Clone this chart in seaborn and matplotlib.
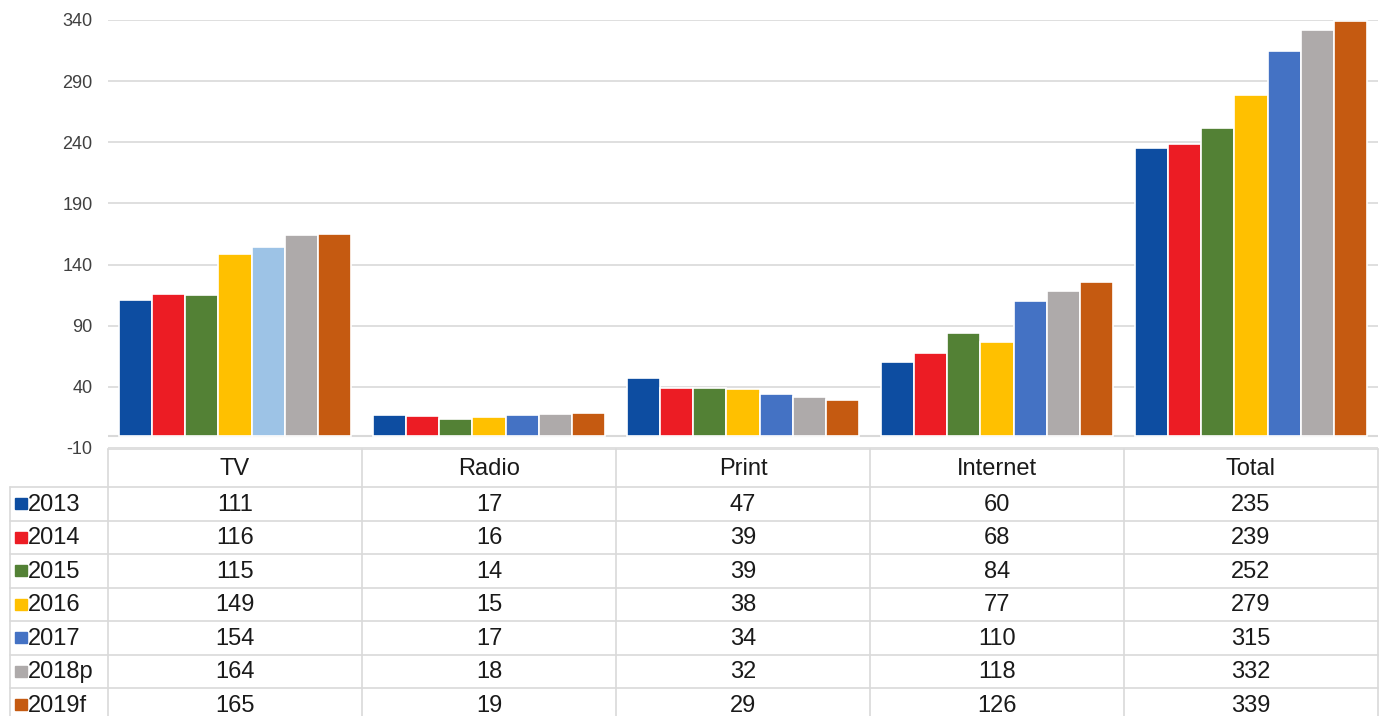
import matplotlib
matplotlib.use("Agg")
import matplotlib.pyplot as plt
import seaborn as sns
import pandas as pd

categories = ["TV", "Radio", "Print", "Internet", "Total"]
years = ["2013", "2014", "2015", "2016", "2017", "2018p", "2019f"]
v2013 = [111, 17, 47, 60, 235]
v2014 = [116, 16, 39, 68, 239]
v2015 = [115, 14, 39, 84, 252]
v2016 = [149, 15, 38, 77, 279]
v2017 = [154, 17, 34, 110, 315]
v2018p = [164, 18, 32, 118, 332]
v2019f = [165, 19, 29, 126, 339]
series = [v2013, v2014, v2015, v2016, v2017, v2018p, v2019f]
colors = ["#0D4DA1", "#EC1C24", "#538135", "#FFC000", "#4472C4", "#AEAAAA", "#C55A11"]
tv_2017_color = "#9DC3E6"
yticks = list(range(-10, 341, 50))

rows = []
for y, vals in zip(years, series):
    for c, v in zip(categories, vals):
        rows.append({"category": c, "year": y, "value": v})
df = pd.DataFrame(rows)

sns.set_theme(style="white")
plt.rcParams["font.family"] = ["Liberation Sans", "DejaVu Sans"]
plt.rcParams["axes.unicode_minus"] = False

W, H = 1384, 716
fig = plt.figure(figsize=(W / 100, H / 100), dpi=100)

# pixel layout
left, right = 108, 1378
top_px, bot_px = 20, 448
ax = fig.add_axes([left / W, 1 - bot_px / H, (right - left) / W, (bot_px - top_px) / H])
sns.barplot(data=df, x="category", y="value", hue="year", order=categories,
            hue_order=years, palette=colors, width=0.91, edgecolor="white",
            linewidth=1.2, legend=False, ax=ax, saturation=1)
ax.containers[4][0].set_facecolor(tv_2017_color)
ax.set_ylim(-10, 340)
ax.set_xlim(-0.5, len(categories) - 0.5)
ax.set_yticks(yticks)
ax.set_xticks([])
ax.set_xlabel("")
ax.set_ylabel("")
ax.grid(axis="y", color="#D9D9D9", linewidth=1.2)
ax.set_axisbelow(True)
ax.axhline(0, color="#D9D9D9", linewidth=1.5, zorder=0.5)
for s in ax.spines.values():
    s.set_visible(False)
ax.tick_params(axis="y", length=0, pad=11, labelsize=13, labelcolor="#404040")

# data table overlay in pixel coordinates
tax = fig.add_axes([0, 0, 1, 1])
tax.set_xlim(0, W)
tax.set_ylim(H, 0)
tax.axis("off")
line_c = "#D9D9D9"
lab_left = 10
col_w = (right - left) / len(categories)
header_top, header_bot = 449, 487
row_h = 33.5
n_rows = len(years)
table_bottom = header_bot + row_h * n_rows
fs = 17
# header row lines
tax.plot([left, right], [header_top, header_top], color=line_c, lw=1.2)
for i in range(len(categories) + 1):
    x = left + i * col_w
    tax.plot([x, x], [header_top, table_bottom], color=line_c, lw=1.2)
tax.plot([lab_left, lab_left], [header_bot, table_bottom], color=line_c, lw=1.2)
for r in range(n_rows + 1):
    y = header_bot + r * row_h
    tax.plot([lab_left, right], [y, y], color=line_c, lw=1.2)
for i, c in enumerate(categories):
    tax.text(left + (i + 0.5) * col_w, (header_top + header_bot) / 2 + 1, c,
             ha="center", va="center", fontsize=fs, color="#1a1a1a")
for r, (y, vals, col) in enumerate(zip(years, series, colors)):
    yc = header_bot + (r + 0.5) * row_h
    tax.add_patch(plt.Rectangle((15, yc - 5.5), 12, 11, color=col))
    tax.text(28, yc + 1, y, ha="left", va="center", fontsize=fs, color="#1a1a1a")
    for i, v in enumerate(vals):
        tax.text(left + (i + 0.5) * col_w, yc + 1, str(v), ha="center", va="center",
                 fontsize=fs, color="#1a1a1a")

fig.savefig("out.png", dpi=100)
